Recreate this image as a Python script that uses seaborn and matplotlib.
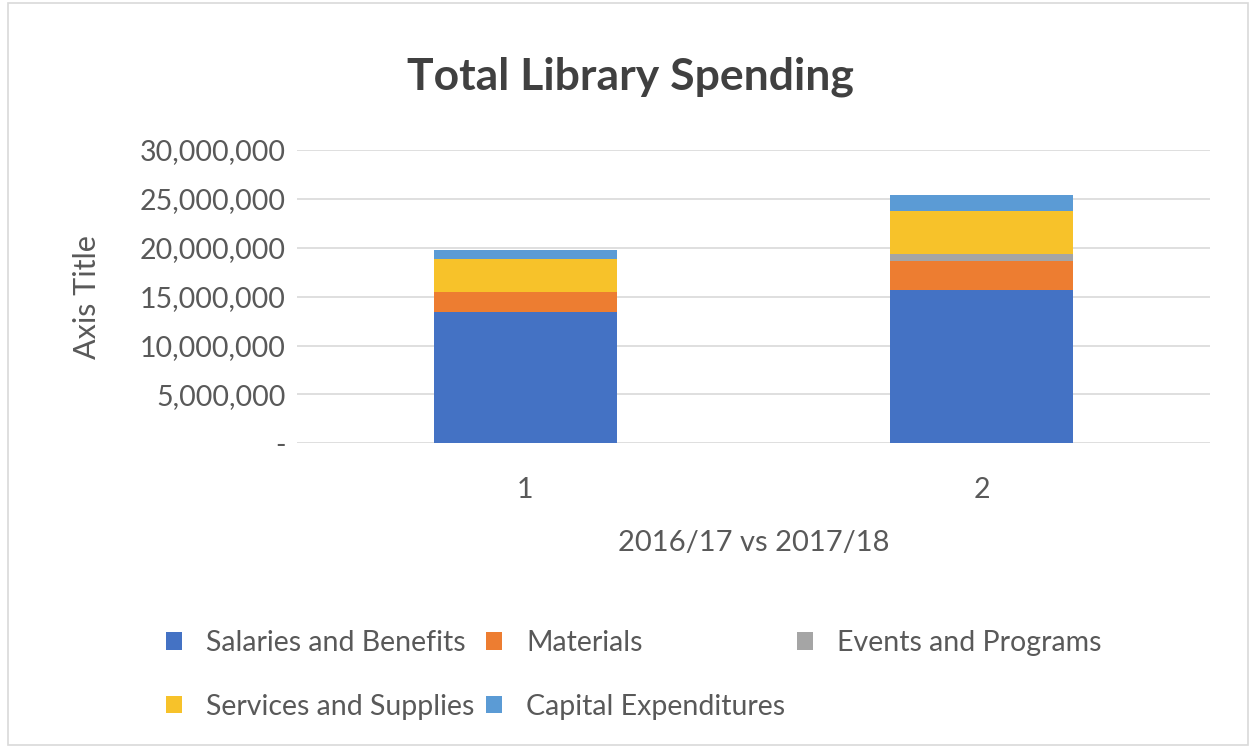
import matplotlib
matplotlib.use("Agg")
import matplotlib.pyplot as plt
from matplotlib.patches import Patch, Rectangle
from matplotlib.ticker import FuncFormatter
import numpy as np
import pandas as pd
import seaborn as sns

# --- data ---
periods = ["1", "2"]
series_names = ["Salaries and Benefits", "Materials", "Events and Programs",
                "Services and Supplies", "Capital Expenditures"]
salaries = [13_400_000, 15_680_000]
materials = [2_040_000, 3_000_000]
events = [80_000, 680_000]
services = [3_330_000, 4_430_000]
capital = [920_000, 1_610_000]
colors = ["#4472C4", "#ED7D31", "#A5A5A5", "#F7C22A", "#5B9BD5"]

sns.set_theme(style="white")
plt.rcParams["font.family"] = ["Lato", "DejaVu Sans"]
text_col = "#595959"

df = pd.DataFrame({
    "period": periods,
    series_names[0]: salaries,
    series_names[1]: materials,
    series_names[2]: events,
    series_names[3]: services,
    series_names[4]: capital,
})
cum = df[series_names].cumsum(axis=1)
cum["period"] = df["period"]

fig = plt.figure(figsize=(12.53, 7.49), dpi=100)
ax = fig.add_axes([0.237, 0.4081, 0.7287, 0.3916])

# stacked bars: draw cumulative totals from the top series down
for name, col in reversed(list(zip(series_names, colors))):
    sns.barplot(data=cum, x="period", y=name, color=col, width=0.4,
                saturation=1, linewidth=0, edgecolor="none", ax=ax, zorder=3)

ax.set_ylim(0, 30_000_000)
ax.set_yticks(np.arange(0, 30_000_001, 5_000_000))
ax.yaxis.set_major_formatter(FuncFormatter(lambda v, p: "-" if v == 0 else f"{v:,.0f}"))
ax.yaxis.grid(True, color="#d9d9d9", linewidth=1.2, zorder=0)
ax.xaxis.grid(False)
for s in ax.spines.values():
    s.set_visible(False)
ax.tick_params(axis="both", length=0, labelsize=20.5, colors=text_col)
ax.tick_params(axis="y", pad=8)
ax.tick_params(axis="x", pad=24)
ax.set_xlabel("2016/17 vs 2017/18", fontsize=21, color=text_col, labelpad=20)
ax.set_ylabel("Axis Title", fontsize=22, color=text_col, labelpad=28)

fig.suptitle("Total Library Spending", x=0.503, y=0.925, fontsize=32,
             fontweight="bold", color="#404040")

# legend laid out in three columns, two rows like the reference
order = [0, 3, 1, 4, 2]
handles = [Patch(facecolor=colors[i], edgecolor="none") for i in order]
labels = [series_names[i] for i in order]
fig.legend(handles, labels, loc="upper left", bbox_to_anchor=(0.112, 0.193),
           ncol=3, frameon=False, fontsize=20.5, handlelength=0.55, handleheight=0.55,
           handletextpad=0.85, columnspacing=0.42, labelspacing=1.32,
           labelcolor=text_col)

fig.patches.append(Rectangle((0.006, 0.006), 0.99, 0.99, transform=fig.transFigure,
                             fill=False, edgecolor="#d9d9d9", linewidth=1.2))

fig.savefig("out.png", dpi=100, facecolor="white")
